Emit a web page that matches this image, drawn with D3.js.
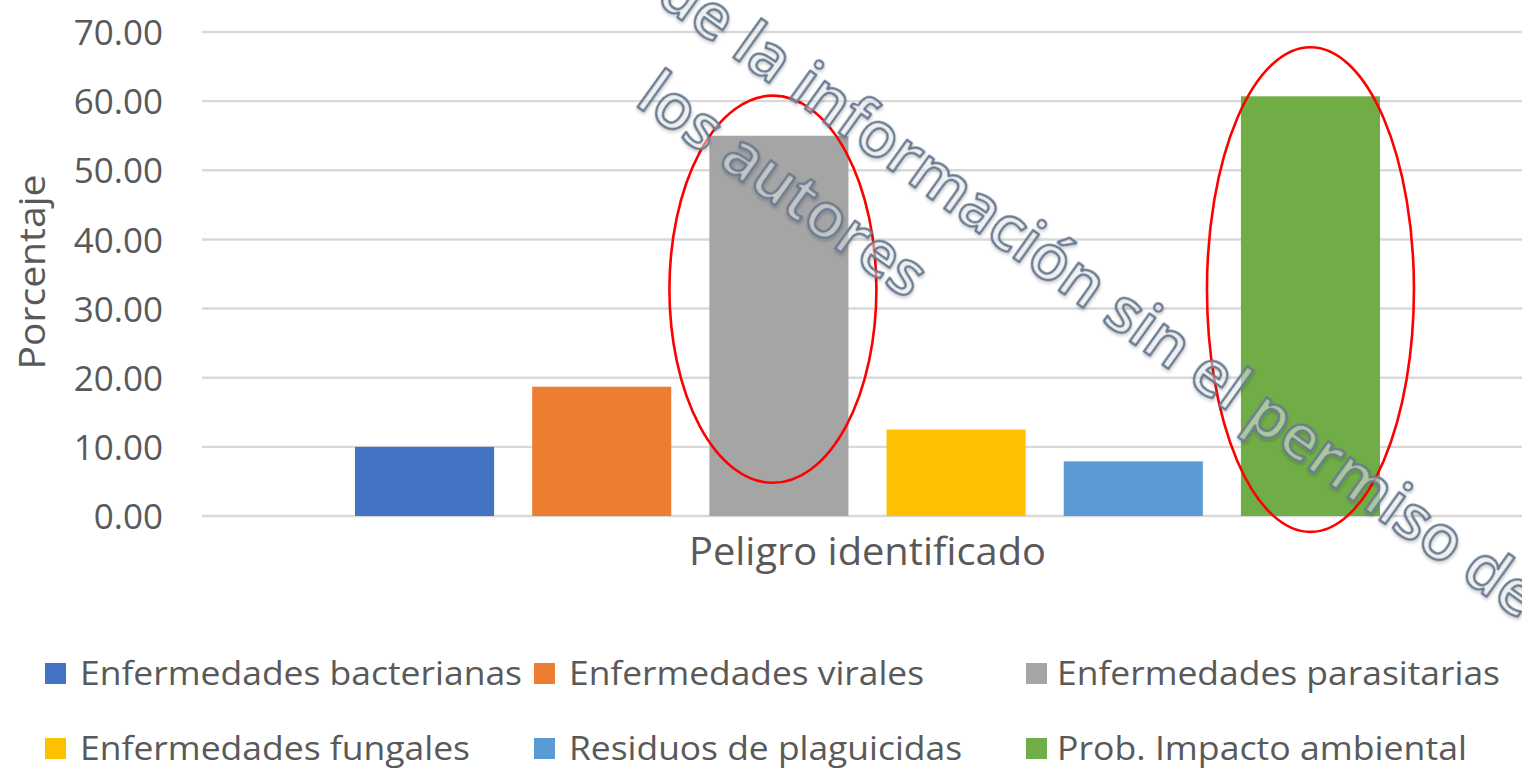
<!DOCTYPE html>
<html lang="es">
<head>
<meta charset="utf-8">
<script src="https://cdn.jsdelivr.net/npm/d3@7"></script>
<style>
  html, body { margin: 0; padding: 0; background: #ffffff; }
  svg { display: block; }
</style>
</head>
<body>
<svg id="chart" width="1522" height="771"></svg>
<script>
// Hazard categories and their percentages
const categories = [
  "Enfermedades bacterianas",
  "Enfermedades virales",
  "Enfermedades parasitarias",
  "Enfermedades fungales",
  "Residuos de plaguicidas",
  "Prob. Impacto ambiental"
];
const values = [10.0, 18.7, 55.0, 12.5, 7.9, 60.7];
const colors = ["#4472c4", "#ed7d31", "#a5a5a5", "#ffc000", "#5b9bd5", "#70ad47"];
const groups = ["Peligro identificado"];
const yTicks = [0, 10, 20, 30, 40, 50, 60, 70];

// Highlight ovals drawn around two of the bars (vertical extent in data units)
const highlightSeries = ["Enfermedades parasitarias", "Prob. Impacto ambiental"];
const highlightTop = [60.8, 67.8];
const highlightBottom = [4.8, -2.3];

const W = 1522, H = 771;
const svg = d3.select("#chart");
const textColor = "#595959";
const font = "'Open Sans', 'DejaVu Sans', sans-serif";

const y = d3.scaleLinear().domain([0, 70]).range([516, 32]);
const x0 = d3.scaleBand().domain(groups).range([202, 1533]).paddingOuter(0.126);
const x1 = d3.scaleBand().domain(categories)
  .range([0, x0.bandwidth()]).paddingInner(0.215).paddingOuter(0.1075);

// Gridlines
svg.append("g").selectAll("line").data(yTicks).join("line")
  .attr("x1", 202).attr("x2", W)
  .attr("y1", d => y(d)).attr("y2", d => y(d))
  .attr("stroke", "#d9d9d9").attr("stroke-width", 2.4);

// Y axis (labels only)
const yAxis = d3.axisLeft(y).tickValues(yTicks).tickFormat(d3.format(".2f")).tickSize(0).tickPadding(0);
const gy = svg.append("g").attr("transform", "translate(163,0)").call(yAxis);
gy.select(".domain").remove();
gy.selectAll("text")
  .attr("font-family", font).attr("font-size", 35).attr("fill", textColor)
  .attr("dy", "0.36em");

// Y axis title
svg.append("text")
  .attr("transform", "translate(45,272) rotate(-90)")
  .attr("text-anchor", "middle")
  .attr("font-family", font).attr("font-size", 37).attr("fill", textColor)
  .attr("textLength", 195).attr("lengthAdjust", "spacingAndGlyphs")
  .text("Porcentaje");

// Bars
const gBars = svg.append("g").attr("transform", `translate(${x0(groups[0])},0)`);
gBars.selectAll("rect").data(categories).join("rect")
  .attr("x", d => x1(d))
  .attr("width", x1.bandwidth())
  .attr("y", (d, i) => y(values[i]))
  .attr("height", (d, i) => y(0) - y(values[i]))
  .attr("fill", (d, i) => colors[i]);

// X axis title
svg.append("text")
  .attr("x", x0(groups[0]) + x0.bandwidth() / 2).attr("y", 565)
  .attr("text-anchor", "middle")
  .attr("font-family", font).attr("font-size", 38).attr("fill", textColor)
  .attr("textLength", 357).attr("lengthAdjust", "spacingAndGlyphs")
  .text(groups[0]);

// Legend: two rows of three entries
const legendSwatchX = [45, 534, 1026];
const legendTextX = [80, 569, 1057];
const legendRows = [685, 760];
const legendWidths = [442, 355, 443, 390, 393, 410];
const gLeg = svg.append("g");
categories.forEach((c, i) => {
  const col = i % 3, row = Math.floor(i / 3);
  const ly = legendRows[row];
  gLeg.append("rect").attr("x", legendSwatchX[col]).attr("y", ly - 22)
    .attr("width", 21).attr("height", 21)
    .attr("fill", colors[i]);
  gLeg.append("text").attr("x", legendTextX[col]).attr("y", ly)
    .attr("font-family", font).attr("font-size", 33).attr("fill", textColor)
    .attr("textLength", legendWidths[i]).attr("lengthAdjust", "spacingAndGlyphs")
    .text(c);
});

// Highlight ovals
const gOv = svg.append("g");
highlightSeries.forEach((s, i) => {
  const cx = x0(groups[0]) + x1(s) + x1.bandwidth() / 2;
  const yt = y(highlightTop[i]), yb = y(highlightBottom[i]);
  gOv.append("ellipse")
    .attr("cx", cx - (i === 0 ? 6 : 0)).attr("cy", (yt + yb) / 2)
    .attr("rx", 103.5).attr("ry", (yb - yt) / 2)
    .attr("fill", "none").attr("stroke", "#ff0000").attr("stroke-width", 2.6);
});

// Outlined watermark text
const defs = svg.append("defs");
const f = defs.append("filter").attr("id", "wmShadow")
  .attr("x", "-10%").attr("y", "-10%").attr("width", "120%").attr("height", "120%");
f.append("feDropShadow").attr("dx", 1.5).attr("dy", 1.5).attr("stdDeviation", 1.4)
  .attr("flood-color", "#000").attr("flood-opacity", 0.22);

const wm = svg.append("g")
  .attr("transform", "translate(730,55) rotate(35.6)")
  .attr("font-family", "'Open Sans', sans-serif").attr("font-size", 63).attr("font-weight", 600)
  .attr("fill", "rgba(238,241,245,0.45)").attr("stroke", "#6b7b91")
  .attr("stroke-width", 2.4).attr("stroke-linejoin", "round")
  .attr("filter", "url(#wmShadow)");
wm.append("text").attr("x", -93).attr("y", 0).text("de la información sin el permiso de");
wm.append("text").attr("x", -50).attr("y", 96).text("los autores");
</script>
</body>
</html>
